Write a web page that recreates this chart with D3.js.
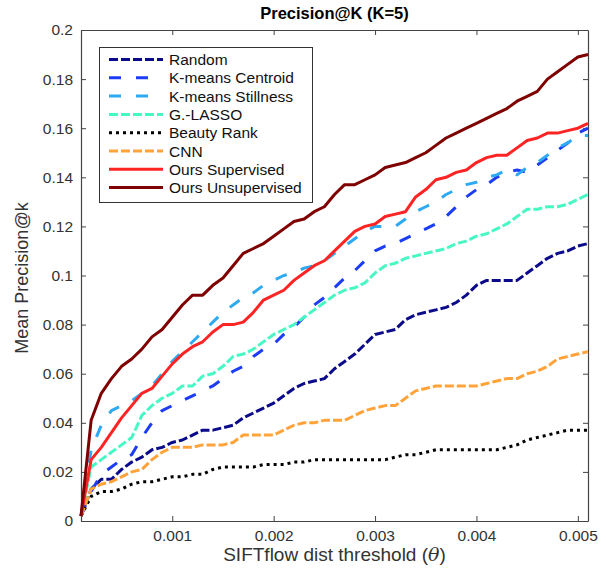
<!DOCTYPE html>
<html>
<head>
  <meta charset="utf-8">
  <script src="https://d3js.org/d3.v7.min.js"></script>
  <style>
    body { margin: 0; background: #fff; }
    svg { font-family: "Liberation Sans", Arial, Helvetica, sans-serif; }
    .axis path, .axis line { stroke: #444; }
    .axis text { font-size: 15.5px; fill: #333; }
  </style>
</head>
<body>
<script>
// threshold values (x)
var thetas = [0.0001, 0.0002, 0.0003, 0.0004, 0.0005, 0.0006, 0.0007, 0.0008, 0.0009, 0.0010,
  0.0011, 0.0012, 0.0013, 0.0014, 0.0015, 0.0016, 0.0017, 0.0018, 0.0019, 0.0020,
  0.0021, 0.0022, 0.0023, 0.0024, 0.0025, 0.0026, 0.0027, 0.0028, 0.0029, 0.0030,
  0.0031, 0.0032, 0.0033, 0.0034, 0.0035, 0.0036, 0.0037, 0.0038, 0.0039, 0.0040,
  0.0041, 0.0042, 0.0043, 0.0044, 0.0045, 0.0046, 0.0047, 0.0048, 0.0049, 0.0050, 0.0051];

var random = [0.002, 0.013, 0.017, 0.017, 0.021, 0.024, 0.026, 0.029, 0.030, 0.032,
  0.033, 0.035, 0.037, 0.037, 0.038, 0.039, 0.042, 0.044, 0.046, 0.048,
  0.051, 0.054, 0.056, 0.057, 0.058, 0.062, 0.065, 0.068, 0.072, 0.076,
  0.077, 0.078, 0.082, 0.084, 0.085, 0.086, 0.087, 0.089, 0.092, 0.096,
  0.098, 0.098, 0.098, 0.098, 0.101, 0.104, 0.107, 0.109, 0.110, 0.112, 0.113];

var kmCentroid = [0.002, 0.012, 0.019, 0.022, 0.025, 0.027, 0.034, 0.040, 0.045, 0.047,
  0.049, 0.051, 0.053, 0.055, 0.058, 0.061, 0.063, 0.067, 0.070, 0.072,
  0.076, 0.079, 0.083, 0.088, 0.091, 0.095, 0.099, 0.102, 0.106, 0.110,
  0.112, 0.113, 0.115, 0.117, 0.119, 0.121, 0.124, 0.128, 0.132, 0.135,
  0.137, 0.140, 0.142, 0.143, 0.142, 0.145, 0.148, 0.151, 0.154, 0.158, 0.160];

var kmStillness = [0.002, 0.029, 0.039, 0.045, 0.047, 0.049, 0.052, 0.055, 0.060, 0.065,
  0.069, 0.073, 0.077, 0.081, 0.085, 0.088, 0.091, 0.093, 0.096, 0.098,
  0.100, 0.101, 0.103, 0.104, 0.106, 0.109, 0.112, 0.115, 0.118, 0.120,
  0.120, 0.120, 0.123, 0.126, 0.128, 0.130, 0.133, 0.135, 0.137, 0.138,
  0.140, 0.141, 0.143, 0.141, 0.144, 0.146, 0.149, 0.152, 0.154, 0.157, 0.157];

var glasso = [0.002, 0.022, 0.025, 0.028, 0.031, 0.034, 0.043, 0.047, 0.050, 0.052,
  0.055, 0.055, 0.059, 0.060, 0.063, 0.067, 0.068, 0.070, 0.073, 0.076,
  0.078, 0.080, 0.083, 0.086, 0.089, 0.092, 0.094, 0.095, 0.097, 0.101,
  0.104, 0.105, 0.107, 0.108, 0.109, 0.110, 0.111, 0.113, 0.114, 0.116,
  0.117, 0.119, 0.121, 0.124, 0.127, 0.127, 0.128, 0.128, 0.129, 0.131, 0.133];

var beautyRank = [0.002, 0.010, 0.012, 0.012, 0.013, 0.015, 0.016, 0.016, 0.017, 0.018,
  0.018, 0.019, 0.019, 0.021, 0.022, 0.022, 0.022, 0.022, 0.023, 0.023,
  0.023, 0.024, 0.024, 0.025, 0.025, 0.025, 0.025, 0.025, 0.025, 0.025,
  0.025, 0.026, 0.027, 0.027, 0.028, 0.029, 0.029, 0.029, 0.029, 0.029,
  0.029, 0.029, 0.030, 0.031, 0.033, 0.034, 0.035, 0.036, 0.037, 0.037, 0.037];

var cnn = [0.002, 0.013, 0.015, 0.016, 0.018, 0.020, 0.021, 0.025, 0.028, 0.030,
  0.030, 0.030, 0.031, 0.031, 0.031, 0.032, 0.035, 0.035, 0.035, 0.035,
  0.037, 0.039, 0.040, 0.040, 0.041, 0.041, 0.041, 0.043, 0.045, 0.046,
  0.047, 0.047, 0.050, 0.053, 0.054, 0.055, 0.055, 0.055, 0.055, 0.055,
  0.056, 0.057, 0.058, 0.058, 0.060, 0.061, 0.063, 0.066, 0.067, 0.068, 0.069];

var oursSup = [0.002, 0.025, 0.030, 0.036, 0.042, 0.047, 0.052, 0.054, 0.059, 0.064,
  0.068, 0.071, 0.073, 0.077, 0.080, 0.080, 0.081, 0.085, 0.090, 0.092,
  0.094, 0.098, 0.101, 0.104, 0.106, 0.110, 0.114, 0.118, 0.120, 0.121,
  0.124, 0.125, 0.126, 0.132, 0.135, 0.139, 0.140, 0.142, 0.143, 0.146,
  0.148, 0.149, 0.149, 0.152, 0.155, 0.156, 0.158, 0.158, 0.159, 0.160, 0.162];

var oursUnsup = [0.002, 0.041, 0.052, 0.058, 0.063, 0.066, 0.070, 0.075, 0.078, 0.083,
  0.088, 0.092, 0.092, 0.096, 0.099, 0.104, 0.109, 0.111, 0.113, 0.116,
  0.119, 0.122, 0.123, 0.126, 0.128, 0.133, 0.137, 0.137, 0.139, 0.141,
  0.144, 0.145, 0.146, 0.148, 0.150, 0.153, 0.156, 0.158, 0.160, 0.162,
  0.164, 0.166, 0.168, 0.171, 0.173, 0.175, 0.180, 0.183, 0.186, 0.189, 0.190];

var seriesNames = ["Random", "K-means Centroid", "K-means Stillness", "G.-LASSO",
  "Beauty Rank", "CNN", "Ours Supervised", "Ours Unsupervised"];
var seriesValues = [random, kmCentroid, kmStillness, glasso, beautyRank, cnn, oursSup, oursUnsup];

var xTicks = [0.001, 0.002, 0.003, 0.004, 0.005];
var yTicks = [0, 0.02, 0.04, 0.06, 0.08, 0.1, 0.12, 0.14, 0.16, 0.18, 0.2];

// line styles
var styles = [
  {color: "#0a0a8a", dash: "9,3"},
  {color: "#1c3cf5", dash: "12,15"},
  {color: "#2eaaf2", dash: "12,15"},
  {color: "#47f7c4", dash: "9,3"},
  {color: "#000000", dash: "3,4"},
  {color: "#ffa33a", dash: "9,3"},
  {color: "#ff2424", dash: null},
  {color: "#7f0000", dash: null}
];

var W = 613, H = 571;
var pLeft = 81, pRight = 588, pTop = 30, pBottom = 521;

var svg = d3.select("body").append("svg").attr("width", W).attr("height", H);

var x = d3.scaleLinear().domain([0.0001, 0.0051]).range([pLeft, pRight]);
var y = d3.scaleLinear().domain([0, 0.2]).range([pBottom, pTop]);

var yfmt = function(d) { return d === 0 ? "0" : String(+d.toFixed(2)); };

// axes, ticks pointing inward
svg.append("g").attr("class", "axis").attr("transform", "translate(0," + pBottom + ")")
  .call(d3.axisBottom(x).tickValues(xTicks).tickFormat(d3.format(".3f")).tickSizeInner(-5).tickSizeOuter(0).tickPadding(9));
svg.append("g").attr("class", "axis").attr("transform", "translate(" + pLeft + ",0)")
  .call(d3.axisLeft(y).tickValues(yTicks).tickFormat(yfmt).tickSizeInner(-5).tickSizeOuter(0).tickPadding(8));
svg.append("g").attr("class", "axis").attr("transform", "translate(0," + pTop + ")")
  .call(d3.axisTop(x).tickValues(xTicks).tickFormat("").tickSizeInner(-5).tickSizeOuter(0));
svg.append("g").attr("class", "axis").attr("transform", "translate(" + pRight + ",0)")
  .call(d3.axisRight(y).tickValues(yTicks).tickFormat("").tickSizeInner(-5).tickSizeOuter(0));

svg.selectAll(".axis path").attr("stroke-width", 1.2);

// lines
var line = d3.line().x(function(d, i) { return x(thetas[i]); }).y(function(d) { return y(d); });

seriesValues.forEach(function(vals, k) {
  svg.append("path")
    .attr("d", line(vals))
    .attr("fill", "none")
    .attr("stroke", styles[k].color)
    .attr("stroke-width", 3)
    .attr("stroke-dasharray", styles[k].dash)
    .attr("stroke-linejoin", "round");
});

// title and axis labels
svg.append("text").attr("x", (pLeft + pRight) / 2).attr("y", 19).attr("text-anchor", "middle")
  .attr("font-size", 16.5).attr("font-weight", "bold").attr("fill", "#000").text("Precision@K (K=5)");

var xl = svg.append("text").attr("x", (pLeft + pRight) / 2).attr("y", 561).attr("text-anchor", "middle")
  .attr("font-size", 19).attr("fill", "#333");
xl.append("tspan").text("SIFTflow dist threshold (");
xl.append("tspan").attr("font-style", "italic").attr("font-family", "'DejaVu Serif', serif").text("θ");
xl.append("tspan").text(")");

svg.append("text").attr("transform", "translate(28,278) rotate(-90)")
  .attr("text-anchor", "middle").attr("font-size", 18).attr("fill", "#333").text("Mean Precision@k");

// legend
var lg = svg.append("g");
lg.append("rect").attr("x", 99.5).attr("y", 47.5).attr("width", 213).attr("height", 155)
  .attr("fill", "#fff").attr("stroke", "#333").attr("stroke-width", 1);
seriesNames.forEach(function(name, k) {
  var yy = 59.5 + k * 18.3;
  lg.append("line").attr("x1", 109).attr("x2", 163).attr("y1", yy).attr("y2", yy)
    .attr("stroke", styles[k].color).attr("stroke-width", 3).attr("stroke-dasharray", styles[k].dash);
  lg.append("text").attr("x", 169).attr("y", yy + 5.5).attr("font-size", 15.5).attr("fill", "#111").text(name);
});
</script>
</body>
</html>
